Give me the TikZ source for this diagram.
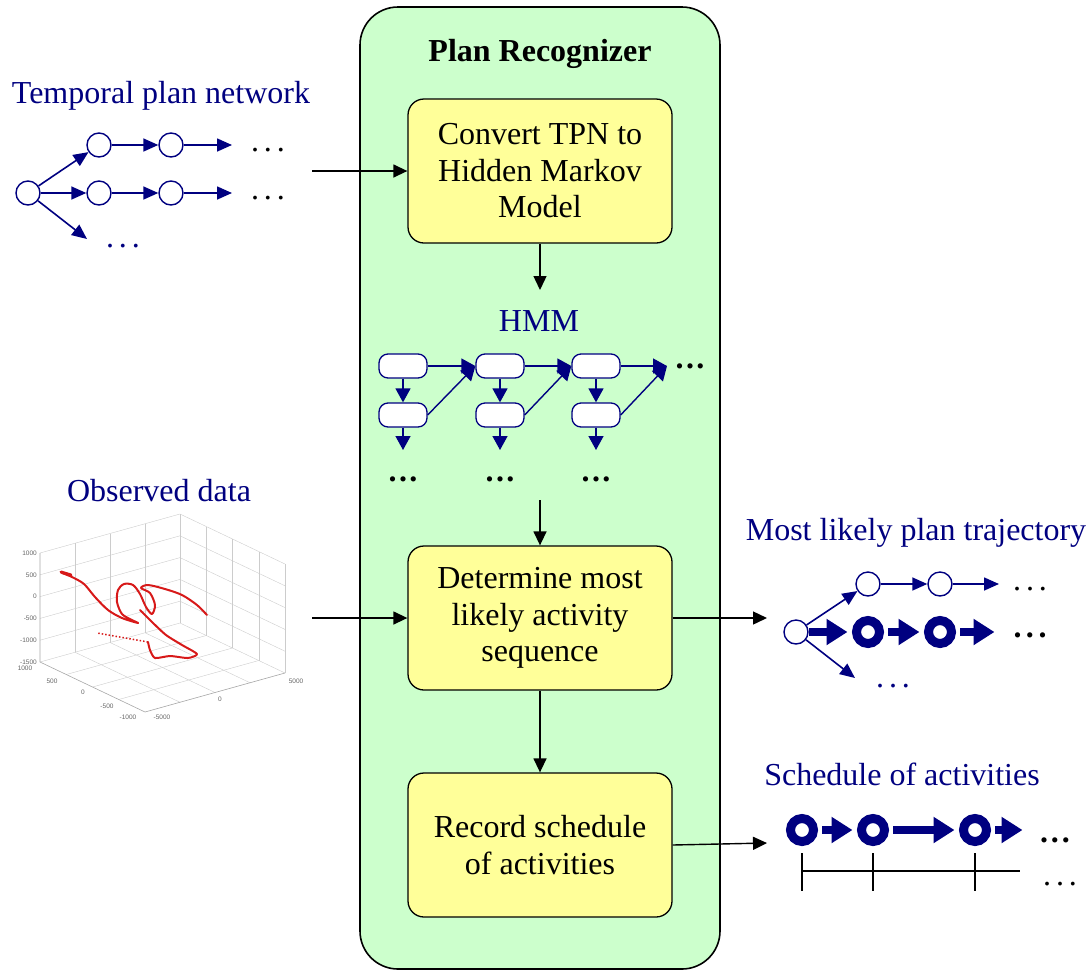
\documentclass[tikz,border=0pt]{standalone}
\usepackage{fontspec}
\setmainfont{Liberation Serif}
\newfontfamily\plotfont{Liberation Sans}
\usetikzlibrary{arrows.meta,calc}
\definecolor{navy}{RGB}{0,0,128}
\definecolor{panelgreen}{RGB}{204,255,204}
\definecolor{boxyellow}{RGB}{255,255,153}
\definecolor{trackred}{RGB}{215,25,25}
\newcommand{\bigtext}{\fontsize{32}{36.5}\selectfont}
\newcommand{\spreaddots}[1]{.\kern#1.\kern#1.}

\tikzset{
  panel/.style={draw, line width=1.6pt, fill=panelgreen, rounded corners=38pt,
    minimum width=360pt, minimum height=962pt, inner sep=0pt},
  stepbox/.style={draw, line width=1.3pt, fill=boxyellow, rounded corners=16pt,
    minimum width=264pt, minimum height=144pt, inner sep=0pt, align=center, font=\bigtext},
  flow/.style={-{Triangle[length=14pt,width=13pt]}, line width=1.4pt},
  title/.style={text=navy, font=\bigtext, anchor=base, inner sep=0pt},
  state/.style={circle, draw=navy, fill=white, line width=1.4pt, minimum size=24pt, inner sep=0pt},
  ring/.style={circle, draw=navy, fill=white, line width=9pt, minimum size=23pt, inner sep=0pt},
  link/.style={navy, line width=1.6pt, -{Triangle[length=15pt,width=13pt]}},
  heavylink/.style={navy, line width=8pt, -{Triangle[length=21pt,width=25pt]}, shorten >=4.5pt},
  hmmstate/.style={draw=navy, fill=white, line width=1.3pt, rounded corners=9pt,
    minimum width=48pt, minimum height=24pt, inner sep=0pt},
  hmmlink/.style={navy, line width=1.4pt, -{Triangle[length=14pt,width=15pt]}},
  dotsnode/.style={anchor=base, inner sep=0pt, font=\bigtext},
  grid3d/.style={gray!40, line width=0.4pt},
  axis3d/.style={gray!70, line width=0.6pt},
  ticklabel/.style={font=\plotfont\fontsize{6.5}{7}\selectfont, text=gray!80!black, inner sep=0pt},
  track/.style={trackred, line width=2pt, line join=round, line cap=round},
}

\begin{document}
\begin{tikzpicture}[x=1pt,y=-1pt]
\useasboundingbox (0,0) rectangle (1090,970);

% ---------- recognizer panel and its steps ----------
\node[panel] (panel) at (540,488) {};
\node[anchor=base, font=\bigtext\bfseries, inner sep=0pt] (ptitle) at (540,61) {Plan Recognizer};

\node[stepbox] (convert) at (540,171) {Convert TPN to\\Hidden Markov\\Model};
\node[stepbox] (determine) at (540,618) {Determine most\\likely activity\\sequence};
\node[stepbox] (record) at (540,845) {Record schedule\\of activities};

% ---------- HMM sketch ----------
\node[title] (hmmlabel) at (539,331) {HMM};
\node[hmmstate] (h1a) at (403,366) {};
\node[hmmstate] (h1b) at (403,415) {};
\node[hmmstate] (h2a) at (500,366) {};
\node[hmmstate] (h2b) at (500,415) {};
\node[hmmstate] (h3a) at (596,366) {};
\node[hmmstate] (h3b) at (596,415) {};
\coordinate (h1out) at (403,450);
\coordinate (h2out) at (500,450);
\coordinate (h3out) at (596,450);
\coordinate (h4in) at (667,366);

\draw[hmmlink] (h1a) -- (h1b);
\draw[hmmlink] (h2a) -- (h2b);
\draw[hmmlink] (h3a) -- (h3b);
\draw[hmmlink] (h1b) -- (h1out);
\draw[hmmlink] (h2b) -- (h2out);
\draw[hmmlink] (h3b) -- (h3out);
\draw[hmmlink] (h1a.east) -- (h2a.west);
\draw[hmmlink] (h2a.east) -- (h3a.west);
\draw[hmmlink] (h3a.east) -- (h4in);
\draw[hmmlink] (h1b.east) -- (h2a.west);
\draw[hmmlink] (h2b.east) -- (h3a.west);
\draw[hmmlink] (h3b.east) -- (h4in);

\node[dotsnode] (hd1) at (403,481) {\textbf{\spreaddots{2.5pt}}};
\node[dotsnode] (hd2) at (500,481) {\textbf{\spreaddots{2.5pt}}};
\node[dotsnode] (hd3) at (596,481) {\textbf{\spreaddots{2.5pt}}};
\node[dotsnode] (hd4) at (690,368) {\textbf{\spreaddots{2.5pt}}};

% ---------- flow inside the panel ----------
\coordinate (hmmtop) at (540,290);
\coordinate (hmmbottom) at (540,500);
\draw[flow] (convert) -- (hmmtop);
\draw[flow] (hmmbottom) -- (determine);
\draw[flow] (determine) -- (record);

% ---------- temporal plan network ----------
\node[title] (tpnlabel) at (161,103) {Temporal plan network};
\node[state] (t0) at (28,193) {};
\node[state] (t1) at (99,145) {};
\node[state] (t2) at (171,145) {};
\node[state] (u1) at (99,193) {};
\node[state] (u2) at (171,193) {};
\coordinate (tend) at (232,145);
\coordinate (uend) at (232,193);
\coordinate (vend) at (87,239);
\draw[link] (t0) -- (t1);
\draw[link] (t1) -- (t2);
\draw[link] (t2) -- (tend);
\draw[link] (t0) -- (u1);
\draw[link] (u1) -- (u2);
\draw[link] (u2) -- (uend);
\draw[link] (t0) -- (vend);
\node[dotsnode] (td1) at (268,151) {\spreaddots{5pt}};
\node[dotsnode] (td2) at (268,199) {\spreaddots{5pt}};
\node[dotsnode, text=navy] (td3) at (123,247) {\spreaddots{5pt}};

\coordinate (tpnsrc) at (312,171);
\draw[flow] (tpnsrc) -- (convert);

% ---------- observed data plot ----------
\node[title] (obslabel) at (159,501) {Observed data};
\coordinate (P1) at (40,662);
\coordinate (P2) at (145,712);
\coordinate (P3) at (285,673);
\coordinate (P4) at (180,623);
\coordinate (Q1) at (40,553);
\coordinate (Q3) at (285,564);
\coordinate (Q4) at (180,514);
% back walls and floor grid
\foreach \k in {0,0.2,0.4,0.6,0.8,1} {
  \draw[grid3d] ($(P1)!\k!(Q1)$) -- ($(P4)!\k!(Q4)$) -- ($(P3)!\k!(Q3)$);
}
\foreach \t in {0.25,0.5,0.75,1} {
  \draw[grid3d] ($(P1)!\t!(P4)$) -- ($(Q1)!\t!(Q4)$);
}
\foreach \t in {0.25,0.5,0.75,1} {
  \draw[grid3d] ($(P4)!\t!(P3)$) -- ($(Q4)!\t!(Q3)$);
}
\foreach \t in {0.25,0.5,0.75} {
  \draw[grid3d] ($(P1)!\t!(P2)$) -- ($(P4)!\t!(P3)$);
  \draw[grid3d] ($(P2)!\t!(P3)$) -- ($(P1)!\t!(P4)$);
}
\draw[axis3d] (Q1) -- (P1) -- (P2) -- (P3);
% tick labels
\foreach \k/\lab in {0/-1500,0.2/-1000,0.4/-500,0.6/0,0.8/500,1/1000} {
  \node[ticklabel, anchor=east] at ($(P1)!\k!(Q1)+(-3,0)$) {\lab};
}
\node[ticklabel] at (25,668) {1000};
\node[ticklabel] at (52,681) {500};
\node[ticklabel] at (83,692) {0};
\node[ticklabel] at (107,706) {-500};
\node[ticklabel] at (128,717) {-1000};
\node[ticklabel] at (162,717) {-5000};
\node[ticklabel] at (220,699) {0};
\node[ticklabel] at (296,681) {5000};
% recorded trajectory
\draw[track]
  plot[smooth, tension=0.5] coordinates {(62,573) (72,577) (84,584) (95,597) (108,610)
    (122,618) (138,623) (132,620) (122,614) (117,602) (118,590) (124,584) (133,585)
    (140,594) (146,607) (152,614) (155,605) (150,593) (141,588) (148,585) (165,589)
    (182,595) (197,605) (207,615)};
\draw[track]
  plot[smooth, tension=0.4] coordinates {(140,610) (152,622) (166,635) (182,645)
    (197,654) (188,658) (170,656) (155,658) (150,650) (148,642)};
\draw[trackred, line width=1.5pt, dotted] (148,642) -- (97,633);
\draw[trackred, line width=3pt, line cap=round] (61,572) -- (71,575);

\coordinate (obssrc) at (312,618);
\draw[flow] (obssrc) -- (determine);

% ---------- most likely plan trajectory ----------
\node[title] (mllabel) at (916,540) {Most likely plan trajectory};
\node[state] (m0) at (796,632) {};
\node[state] (m1) at (868,584) {};
\node[state] (m2) at (940,584) {};
\node[ring] (r1) at (868,632) {};
\node[ring] (r2) at (940,632) {};
\coordinate (mend) at (999,632);
\coordinate (mtop) at (999,584);
\coordinate (mlow) at (855,678);
\draw[link] (m0) -- (m1);
\draw[link] (m1) -- (m2);
\draw[link] (m2) -- (mtop);
\draw[link] (m0) -- (mlow);
\draw[heavylink] (m0.east) -- (r1.west);
\draw[heavylink, shorten <=4pt] (r1.east) -- (r2.west);
\draw[heavylink, shorten <=4pt] (r2.east) -- (mend);
\node[dotsnode] (md1) at (1030,590) {\spreaddots{5pt}};
\node[dotsnode] (md2) at (1030,637) {\textbf{\spreaddots{4.5pt}}};
\node[dotsnode, text=navy] (md3) at (893,687) {\spreaddots{5pt}};

\coordinate (mlin) at (767,618);
\draw[flow] (determine) -- (mlin);

% ---------- schedule of activities ----------
\node[title] (schlabel) at (902,785) {Schedule of activities};
\node[ring] (s1) at (802,830) {};
\node[ring] (s2) at (873,830) {};
\node[ring] (s3) at (975,830) {};
\coordinate (send) at (1027,830);
\draw[heavylink, shorten <=4pt] (s1.east) -- (s2.west);
\draw[heavylink, shorten <=4pt] (s2.east) -- (s3.west);
\draw[heavylink, shorten <=4pt] (s3.east) -- (send);
\draw[line width=1.4pt] (802,871) -- (1020,871);
\foreach \x in {802,873,975} {
  \draw[line width=1.4pt] (\x,853) -- (\x,891);
}
\node[dotsnode] (sd1) at (1055,842) {\textbf{\spreaddots{3pt}}};
\node[dotsnode] (sd2) at (1060,885) {\spreaddots{5pt}};

\coordinate (schin) at (767,843);
\draw[flow] (record.east) -- (schin);

\end{tikzpicture}
\end{document}
